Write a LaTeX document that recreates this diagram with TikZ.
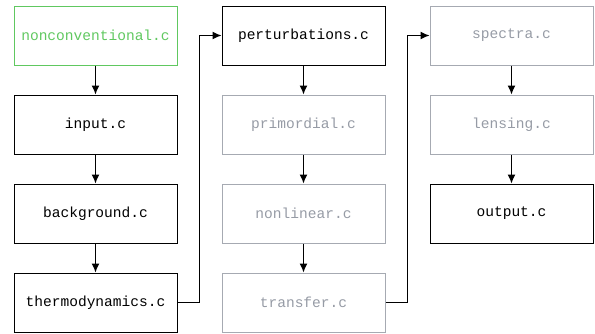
\documentclass[tikz,border=0pt]{standalone}
\usepackage{fontspec}
\setmonofont{Liberation Mono}
\usetikzlibrary{positioning,arrows.meta}
\definecolor{newgreen}{RGB}{96,200,96}
\definecolor{offgray}{RGB}{150,155,165}
\tikzset{
  file/.style={draw, line width=1bp, minimum width=163bp, minimum height=59bp,
    inner sep=0pt, font=\ttfamily\fontsize{14.6}{16}\selectfont},
  newfile/.style={file, draw=newgreen, text=newgreen},
  offfile/.style={file, draw=offgray!85, text=offgray},
  flow/.style={-{Latex[length=9bp,width=8bp]}, line width=1.2bp},
}
\begin{document}
\begin{tikzpicture}[node distance=29bp and 44bp]
\useasboundingbox (0,0) rectangle (595bp,-334bp);
% first column
\node[newfile] (noncon) at (95.5bp,-35.5bp) {nonconventional.c};
\node[file, below=of noncon] (input) {input.c};
\node[file, below=of input] (backgr) {background.c};
\node[file, below=of backgr] (thermo) {thermodynamics.c};
% second column
\node[file, right=of noncon] (pert) {perturbations.c};
\node[offfile, below=of pert] (primord) {primordial.c};
\node[offfile, below=of primord] (nonlin) {nonlinear.c};
\node[offfile, below=of nonlin] (transf) {transfer.c};
% third column
\node[offfile, right=of pert] (spectra) {spectra.c};
\node[offfile, below=of spectra] (lensing) {lensing.c};
\node[file, below=of lensing] (output) {output.c};
% arrows
\draw[flow] (noncon) -- (input);
\draw[flow] (input) -- (backgr);
\draw[flow] (backgr) -- (thermo);
\draw[flow] (thermo.east) -- ++(22bp,0) |- (pert.west);
\draw[flow] (pert) -- (primord);
\draw[flow] (primord) -- (nonlin);
\draw[flow] (nonlin) -- (transf);
\draw[flow] (transf.east) -- ++(22bp,0) |- (spectra.west);
\draw[flow] (spectra) -- (lensing);
\draw[flow] (lensing) -- (output);
\end{tikzpicture}
\end{document}
